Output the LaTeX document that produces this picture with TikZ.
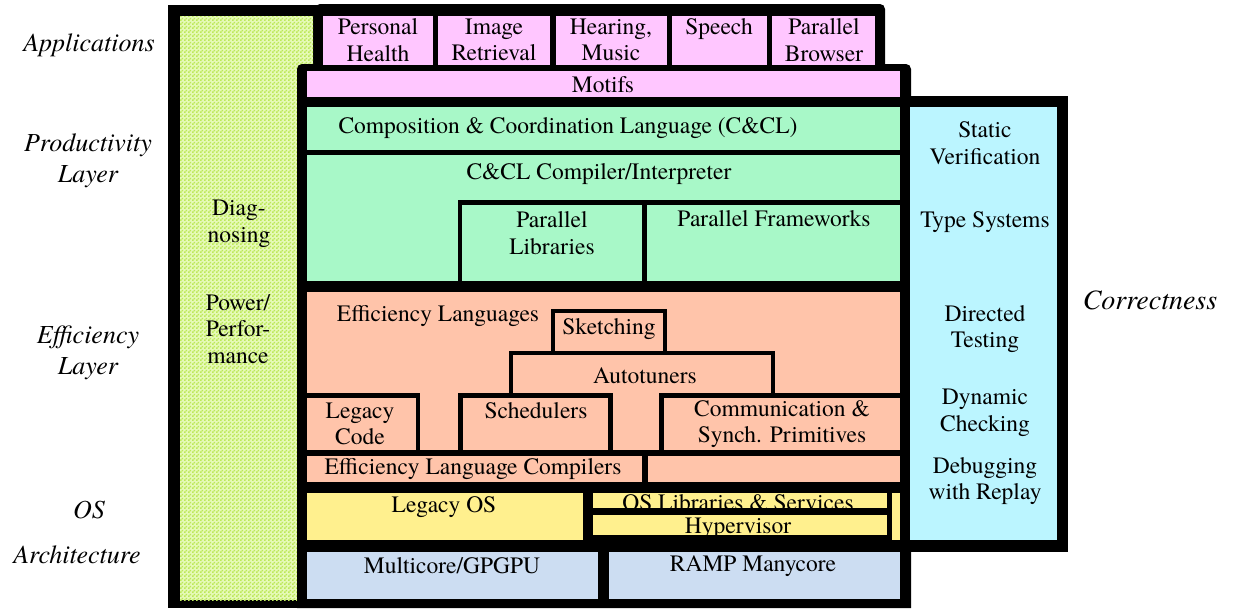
\documentclass[tikz,border=0pt]{standalone}
\usepackage{fontspec}
\IfFontExistsTF{texgyretermes-regular.otf}{%
  \setmainfont{texgyretermes}[Extension=.otf, UprightFont=*-regular,
    ItalicFont=*-italic, BoldFont=*-bold, BoldItalicFont=*-bolditalic]}{}
\usetikzlibrary{patterns}

\definecolor{appPink}{HTML}{FFC6FF}
\definecolor{prodGreen}{HTML}{A8F8C8}
\definecolor{effPeach}{HTML}{FFC4AA}
\definecolor{osYellow}{HTML}{FFF08E}
\definecolor{archBlue}{HTML}{CCDDF2}
\definecolor{corrCyan}{HTML}{BBF5FF}
\definecolor{diagBase}{HTML}{E6FAB8}
\definecolor{diagCheck}{HTML}{BCE858}

% fine two-tone checker used for the diagnosing column
\pgfdeclarepatternformonly{finechecker}{\pgfqpoint{0pt}{0pt}}{\pgfqpoint{4pt}{4pt}}{\pgfqpoint{4pt}{4pt}}{%
  \pgfpathrectangle{\pgfqpoint{0pt}{0pt}}{\pgfqpoint{2pt}{2pt}}%
  \pgfpathrectangle{\pgfqpoint{2pt}{2pt}}{\pgfqpoint{2pt}{2pt}}%
  \pgfusepath{fill}}

\tikzset{
  txt/.style={font=\rmfamily\fontsize{23.5}{26.5}\selectfont, align=center, inner sep=0pt},
  layertxt/.style={font=\rmfamily\fontsize{26}{31}\selectfont\itshape, align=center, inner sep=0pt},
  corrtxt/.style={font=\rmfamily\fontsize{28}{32}\selectfont\itshape, inner sep=0pt},
  frame/.style={fill=black},
  app/.style={fill=appPink},
  prod/.style={fill=prodGreen},
  eff/.style={fill=effPeach},
  os/.style={fill=osYellow},
  arch/.style={fill=archBlue},
  corr/.style={fill=corrCyan},
}

\begin{document}
\begin{tikzpicture}[x=1pt,y=-1pt]
\useasboundingbox (0,0) rectangle (1237,608);

% black frames
\fill[frame] (168,5) rectangle (320,608);
\fill[frame] (315,70) [rounded corners=5] -- (315,4) -- (885,4) -- (885,70) [sharp corners] -- cycle;

% diagnosing column
\fill[fill=diagBase] (180,16) rectangle (313,600);
\fill[pattern=finechecker, pattern color=diagCheck] (180,16) rectangle (313,600);

\fill[frame] (297,608) [rounded corners=5] -- (297,64) -- (911,64) -- (911,200) [sharp corners] -- (911,608) -- cycle;
\fill[frame] (906,96) rectangle (1068,552);

% applications
\fill[app] (323,16) rectangle (433,65);
\fill[app] (438,16) rectangle (550,65);
\fill[app] (556,16) rectangle (667,65);
\fill[app] (672,16) rectangle (767,65);
\fill[app] (772,16) rectangle (875,65);
\fill[app] (307,71) rectangle (900,97);

% productivity layer
\fill[prod] (307,107) rectangle (900,150);
\fill[prod] (307,155) rectangle (900,281);
\fill[frame] (458,200) rectangle (900,281);
\fill[prod] (462,205) rectangle (642,281);
\fill[prod] (647,205) rectangle (900,281);

% efficiency layer
\fill[eff] (307,292) rectangle (900,450);
\fill[frame] (551,309) rectangle (667,355);
\fill[eff] (555,313) rectangle (663,351);
\fill[frame] (509,351) rectangle (775,400);
\fill[eff] (513,355) rectangle (771,450);
\fill[frame] (458,393) rectangle (613,451);
\fill[eff] (463,398) rectangle (608,450);
\fill[frame] (659,393) rectangle (900,451);
\fill[eff] (664,398) rectangle (900,450);
\fill[frame] (307,393) rectangle (420,451);
\fill[eff] (307,398) rectangle (416,450);
\fill[eff] (307,456) rectangle (642,482);
\fill[eff] (648,456) rectangle (900,482);

% operating system
\fill[os] (307,493) rectangle (583,540);
\fill[os] (593,493) rectangle (887,508);
\fill[os] (593,515) rectangle (887,535);
\fill[os] (892,493) rectangle (900,540);

% architecture
\fill[arch] (307,552) rectangle (598,599);
\fill[arch] (609,552) rectangle (900,599);

% correctness column
\fill[corr] (910,107) rectangle (1057,540);

% layer names
\node[layertxt] (lApps) at (89,45) {Applications};
\node[layertxt] (lProd) at (88,161) {Productivity\\Layer};
\node[layertxt] (lEff) at (88,353) {Efficiency\\Layer};
\node[layertxt] (lOS) at (89,510) {OS};
\node[layertxt] (lArch) at (77,555) {Architecture};
\node[corrtxt] (lCorr) at (1150,300) {Correctness};

% box labels
\node[txt] (tHealth) at (378,40) {Personal\\Health};
\node[txt] (tImage) at (494,40) {Image\\Retrieval};
\node[txt] (tHear) at (611,40) {Hearing,\\Music};
\node[txt] (tSpeech) at (719,29) {Speech};
\node[txt] (tBrowser) at (824,40) {Parallel\\Browser};
\node[txt] (tMotifs) at (603,85) {Motifs};
\node[txt] (tCCL) at (568,128) {Composition \& Coordination Language (C\&CL)};
\node[txt] (tCompiler) at (599,174) {C\&CL Compiler/Interpreter};
\node[txt] (tLibs) at (552,233) {Parallel\\Libraries};
\node[txt] (tFrame) at (774,219) {Parallel Frameworks};
\node[txt] (tEffLang) at (438,316) {Efficiency Languages};
\node[txt] (tSketch) at (609,329) {Sketching};
\node[txt] (tAuto) at (645,376) {Autotuners};
\node[txt] (tLegCode) at (360,424) {Legacy\\Code};
\node[txt] (tSched) at (536,411) {Schedulers};
\node[txt] (tComm) at (782,424) {Communication \&\\Synch. Primitives};
\node[txt] (tELC) at (473,469) {Efficiency Language Compilers};
\node[txt] (tLegOS) at (444,507) {Legacy OS};
\begin{scope}
  \clip (593,493) rectangle (887,508);
  \node[txt] (tOSLib) at (738,502.5) {OS Libraries \& Services};
\end{scope}
\begin{scope}
  \clip (593,515) rectangle (887,535);
  \node[txt] (tHyper) at (738,528) {Hypervisor};
\end{scope}
\node[txt] (tMulti) at (452,566) {Multicore/GPGPU};
\node[txt] (tRamp) at (753,566) {RAMP Manycore};

% correctness items
\node[txt] (tStatic) at (985,143) {Static\\Verification};
\node[txt] (tType) at (985,222) {Type Systems};
\node[txt] (tDirected) at (985,329) {Directed\\Testing};
\node[txt] (tDynamic) at (985,413) {Dynamic\\Checking};
\node[txt] (tDebug) at (985,481) {Debugging\\with Replay};

% diagnosing items
\node[txt] (tDiag) at (239,224) {Diag-\\nosing};
\node[txt] (tPower) at (238,329) {Power/\\Perfor-\\mance};
\end{tikzpicture}
\end{document}
